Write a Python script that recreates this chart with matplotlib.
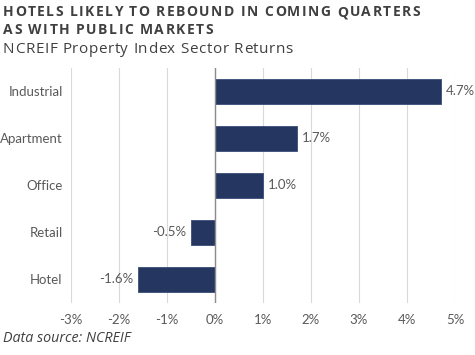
import matplotlib.pyplot as plt
from matplotlib.ticker import FuncFormatter

# 数据
sectors = ['Industrial', 'Apartment', 'Office', 'Retail', 'Hotel']
returns = [4.7, 1.7, 1.0, -0.5, -1.6]
xticks = [-3, -2, -1, 0, 1, 2, 3, 4, 5]

title_lines = ['HOTELS LIKELY TO REBOUND IN COMING QUARTERS', 'AS WITH PUBLIC MARKETS']
subtitle = 'NCREIF Property Index Sector Returns'
source = 'Data source: NCREIF'

bar_color = '#253760'
text_gray = '#595959'
head_gray = '#404040'

plt.rcParams['font.family'] = ['Lato', 'DejaVu Sans']

W, H = 475, 355
fig = plt.figure(figsize=(W / 100, H / 100), dpi=100)
renderer = fig.canvas.get_renderer()


def text_width(s, **kw):
    # 末尾加 '|' 以便把空格宽度算进去
    t = fig.text(0, 0, s + '|', **kw)
    bar = fig.text(0, 0, '|', **kw)
    w = t.get_window_extent(renderer).width - bar.get_window_extent(renderer).width
    t.remove()
    bar.remove()
    return w


def tracked_text(x, y, s, spacing, **kw):
    # 带字间距的文字, x/y 为像素坐标 (左上原点), y 为基线
    for i, ch in enumerate(s):
        if ch == ' ':
            continue
        xi = x + text_width(s[:i], **kw) + i * spacing
        fig.text(xi / W, 1 - y / H, ch, ha='left', va='baseline', **kw)


def spacing_for(s, target, **kw):
    w = text_width(s, **kw)
    return (target - w) / (len(s) - 1)


ax = fig.add_axes([0.1495, 0.1465, 0.8085, 0.662])

y = list(range(len(sectors)))
ax.barh(y, returns, height=0.55, color=bar_color, edgecolor='#3a4c78', linewidth=0.6, zorder=3)

# 数值标签
for yi, v in zip(y, returns):
    if v >= 0:
        ax.text(v + 0.1, yi, f'{v:.1f}%', va='center', ha='left', fontsize=9.5, color=text_gray)
    else:
        ax.text(v - 0.1, yi, f'{v:.1f}%', va='center', ha='right', fontsize=9.5, color=text_gray)

ax.set_xlim(-3, 5)
ax.set_ylim(len(sectors) - 0.5, -0.5)
ax.set_xticks(xticks)
ax.xaxis.set_major_formatter(FuncFormatter(lambda v, p: f'{v:.0f}%'))
ax.set_yticks(y)
ax.set_yticklabels(sectors)
ax.tick_params(axis='both', length=0, labelsize=9.5, labelcolor=text_gray)
ax.tick_params(axis='x', pad=8)
ax.tick_params(axis='y', pad=6)

ax.grid(axis='x', color='#d9d9d9', linewidth=0.8, zorder=0)
ax.axvline(0, color='#8c8c8c', linewidth=1.0, zorder=4)
for s in ax.spines.values():
    s.set_visible(False)

# 标题
title_kw = dict(fontsize=10, fontweight='bold', color=head_gray, family=['Open Sans', 'DejaVu Sans'])
sp = spacing_for(title_lines[0], 417, **title_kw)
tracked_text(3, 16.5, title_lines[0], sp, **title_kw)
tracked_text(3, 33.5, title_lines[1], sp, **title_kw)

sub_kw = dict(fontsize=11, color=head_gray, family=['Open Sans', 'DejaVu Sans'])
tracked_text(3, 53, subtitle, spacing_for(subtitle, 290, **sub_kw), **sub_kw)

fig.text(3 / W, 1 - 342 / H, source, ha='left', va='baseline', fontsize=10.3,
         style='italic', color=head_gray, family=['Open Sans', 'DejaVu Sans'])

fig.savefig('out.png', dpi=100)
